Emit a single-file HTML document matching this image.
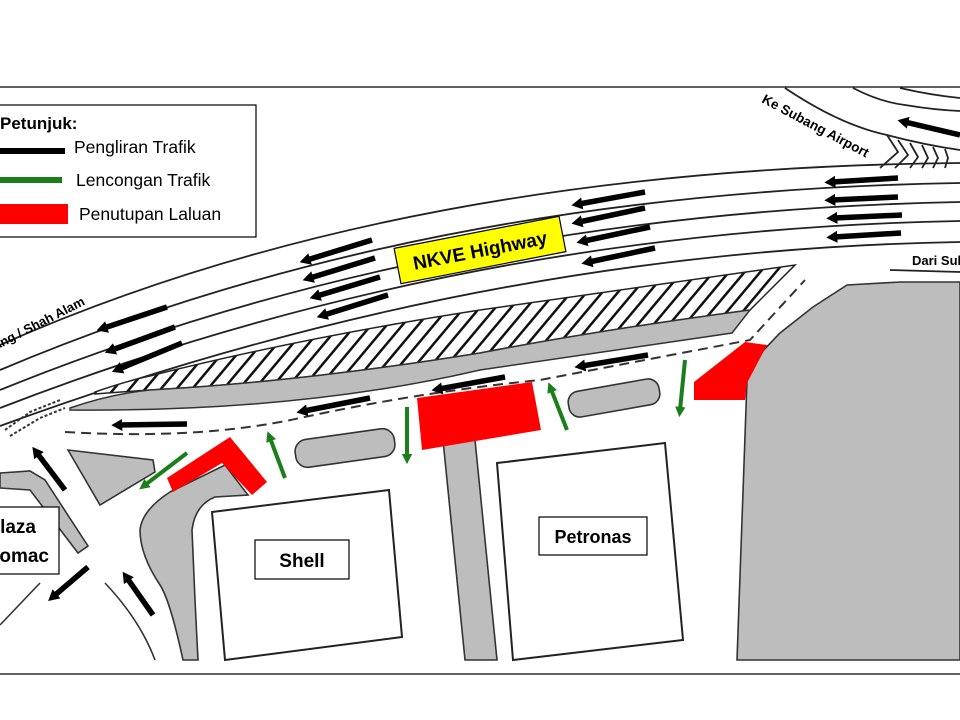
<!DOCTYPE html>
<html><head><meta charset="utf-8"><style>
html,body{margin:0;padding:0;background:#fff;}
svg{display:block;}
text{font-family:"Liberation Sans",sans-serif;}
</style></head><body>
<svg width="960" height="720" viewBox="0 0 960 720" xmlns="http://www.w3.org/2000/svg">
<defs>
<marker id="ah" markerWidth="2" markerHeight="2.2" refX="0.6" refY="1.1" orient="auto" markerUnits="strokeWidth">
<path d="M0,0 L2,1.1 L0,2.2 z" fill="#000"/></marker>
<marker id="gh" markerWidth="2.6" markerHeight="2.6" refX="0.8" refY="1.3" orient="auto" markerUnits="strokeWidth">
<path d="M0,0 L2.6,1.3 L0,2.6 z" fill="#1a7f1a"/></marker>
<pattern id="hatch" width="12" height="12" patternUnits="userSpaceOnUse" patternTransform="rotate(40)">
<rect width="12" height="12" fill="#fff"/><rect x="0" y="0" width="2.5" height="12" fill="#111"/></pattern>
</defs>
<rect width="960" height="720" fill="#fff"/>
<line x1="0" y1="87" x2="960" y2="87" stroke="#000" stroke-width="1.3"/>
<line x1="0" y1="674" x2="960" y2="674" stroke="#000" stroke-width="1.3"/>

<!-- top right ramp -->
<g fill="none" stroke="#222" stroke-width="1.8">
<path d="M785,88 Q840,125 887,135 Q925,145 960,150"/>
<path d="M853,88 Q880,102 905,105 Q935,110 960,111"/>
<path d="M900,88 Q930,95 960,98"/>
<path d="M887,135 L898,152 L880,168 M898,140 L908,155 L895,168 M910,143 L918,157 L910,168 M922,145 L928,158 L922,168 M933,147 L938,158 L933,168 M945,149 L948,158 L945,168"/>
</g>

<!-- highway lines -->
<g fill="none" stroke="#222" stroke-width="1.8">
<path d="M0,345 Q400,168 960,163"/>
<path d="M0,370 Q420,192 960,183"/>
<path d="M0,390 Q440,212 960,202"/>
<path d="M0,408 Q460,230 960,221"/>
<path d="M0,426 Q480,250 960,242"/>
<path d="M890,270 L960,272"/>
</g>

<!-- hatch + grey median -->
<path d="M95,392 Q130,380 150,376 Q300,338 480,310 L795,265 L750,310 Q600,330 480,353 Q300,382 150,390 Q120,392 95,394 Z" fill="url(#hatch)" stroke="#222" stroke-width="1.5"/>
<path d="M70,408 Q110,394 150,390 Q300,382 480,353 Q600,330 750,310 L732,333 Q600,352 480,370 Q300,412 70,410 Z" fill="#bdbdbd" stroke="#333" stroke-width="1.5"/>
<path d="M5,430 L30,412 L60,400 M10,436 L40,418 L65,408" stroke="#333" stroke-width="2" fill="none" stroke-dasharray="3,2"/>

<!-- dashed divider -->
<path d="M65,432 Q200,440 300,418 Q420,392 540,380 L750,340 L805,280" fill="none" stroke="#333" stroke-width="2" stroke-dasharray="10,6"/>

<!-- grey islands -->
<g fill="#bdbdbd" stroke="#333" stroke-width="1.6">
<path d="M68,450 L153,460 L155,472 L100,505 Z"/>
<path d="M0,473 L30,471 L45,480 L88,546 L78,553 L30,490 L0,488 Z"/>
<path d="M140,530 Q142,510 170,492 L225,465 L248,495 L215,497 Q195,505 192,530 L195,600 L198,660 L183,660 Q170,600 160,585 Q140,555 140,530 Z"/>
<path d="M443,440 L475,440 L497,660 L465,660 Z"/>
<path d="M737,660 L747,380 L757,357 L780,333 L813,307 L847,285 L900,282 L960,282 L960,660 Z"/>
<rect x="295" y="434" width="100" height="28" rx="12" transform="rotate(-8 345 448)"/>
<rect x="568" y="385" width="92" height="26" rx="11" transform="rotate(-10 614 398)"/>
</g>

<!-- junction lines -->
<g fill="none" stroke="#333" stroke-width="1.6">
<path d="M0,625 L40,583"/>
<path d="M105,583 Q140,620 155,660"/>
</g>

<!-- buildings -->
<path d="M212,512 L389,490 L402,637 L225,660 Z" fill="#fff" stroke="#222" stroke-width="2"/>
<path d="M497,463 L665,443 L683,640 L513,660 Z" fill="#fff" stroke="#222" stroke-width="2"/>
<rect x="255" y="540" width="94" height="39" fill="#fff" stroke="#000" stroke-width="1.2"/>
<text x="302" y="567" font-size="19" font-weight="bold" text-anchor="middle">Shell</text>
<rect x="539" y="517" width="108" height="38" fill="#fff" stroke="#000" stroke-width="1.2"/>
<text x="593" y="543" font-size="18" font-weight="bold" text-anchor="middle">Petronas</text>
<rect x="-5" y="507" width="64" height="67" fill="#fff" stroke="#000" stroke-width="1.2"/>
<text x="36" y="533" font-size="19" font-weight="bold" text-anchor="end">Plaza</text>
<text x="49" y="562" font-size="19" font-weight="bold" text-anchor="end">Komac</text>

<!-- red closures -->
<g fill="#ff0000">
<path d="M417,398 L532,382 L541,430 L422,450 Z"/>
<path d="M167,478 L230,437 L267,482 L252,495 L222,463 L173,492 Z"/>
<path d="M694,382 L694,400 L745,400 L747,383 L767,345 L745,342 Z"/>
</g>

<!-- black arrows -->
<g stroke="#000" stroke-width="5.5" marker-end="url(#ah)">
<line x1="167" y1="307" x2="104" y2="328"/>
<line x1="175" y1="327" x2="112" y2="350"/>
<line x1="182" y1="343" x2="119" y2="369"/>
<line x1="372" y1="240" x2="307" y2="260"/>
<line x1="375" y1="258" x2="310" y2="278"/>
<line x1="380" y1="277" x2="317" y2="296"/>
<line x1="388" y1="295" x2="324" y2="315"/>
<line x1="645" y1="192" x2="579" y2="204"/>
<line x1="645" y1="208" x2="579" y2="222"/>
<line x1="650" y1="227" x2="584" y2="241"/>
<line x1="655" y1="248" x2="589" y2="262"/>
<line x1="898" y1="178" x2="832" y2="182"/>
<line x1="898" y1="197" x2="832" y2="200"/>
<line x1="902" y1="215" x2="834" y2="218"/>
<line x1="901" y1="233" x2="834" y2="237"/>
<line x1="960" y1="135" x2="905" y2="122"/>
<line x1="187" y1="424" x2="119" y2="425"/>
<line x1="370" y1="398" x2="304" y2="411"/>
<line x1="505" y1="377" x2="439" y2="389"/>
<line x1="648" y1="355" x2="582" y2="366"/>
<line x1="65" y1="490" x2="37" y2="453"/>
<line x1="88" y1="567" x2="54" y2="596"/>
<line x1="153" y1="615" x2="127" y2="578"/>
</g>
<!-- green arrows -->
<g stroke="#1a7f1a" stroke-width="4" marker-end="url(#gh)">
<line x1="187" y1="453" x2="145" y2="485"/>
<line x1="285" y1="478" x2="270" y2="438"/>
<line x1="407" y1="407" x2="407" y2="457"/>
<line x1="567" y1="430" x2="551" y2="389"/>
<line x1="685" y1="360" x2="680" y2="410"/>
</g>

<!-- NKVE label -->
<g transform="rotate(-11 480 250)">
<rect x="396" y="232" width="168" height="36" fill="#ffff00" stroke="#000" stroke-width="1.2"/>
<text x="480" y="257" font-size="19" font-weight="bold" text-anchor="middle">NKVE Highway</text>
</g>
<text x="0" y="0" font-size="13" font-weight="bold" transform="translate(-4,350) rotate(-27)">ang / Shah Alam</text>
<text x="0" y="0" font-size="13.5" font-weight="bold" transform="translate(761,102) rotate(28)">Ke Subang Airport</text>
<text x="912" y="265" font-size="13" font-weight="bold">Dari Subang</text>

<!-- legend -->
<rect x="-5" y="105" width="261" height="132" fill="#fff" stroke="#000" stroke-width="1.2"/>
<text x="0" y="129" font-size="17" font-weight="bold">Petunjuk:</text>
<rect x="0" y="148" width="65" height="6" fill="#000"/>
<text x="74" y="153" font-size="17.5">Pengliran Trafik</text>
<rect x="0" y="177" width="62" height="6" fill="#1a7f1a"/>
<text x="76" y="186" font-size="17.5">Lencongan Trafik</text>
<rect x="0" y="204" width="68" height="20" fill="#ff0000"/>
<text x="79" y="220" font-size="17.5">Penutupan Laluan</text>
</svg>
</body></html>
